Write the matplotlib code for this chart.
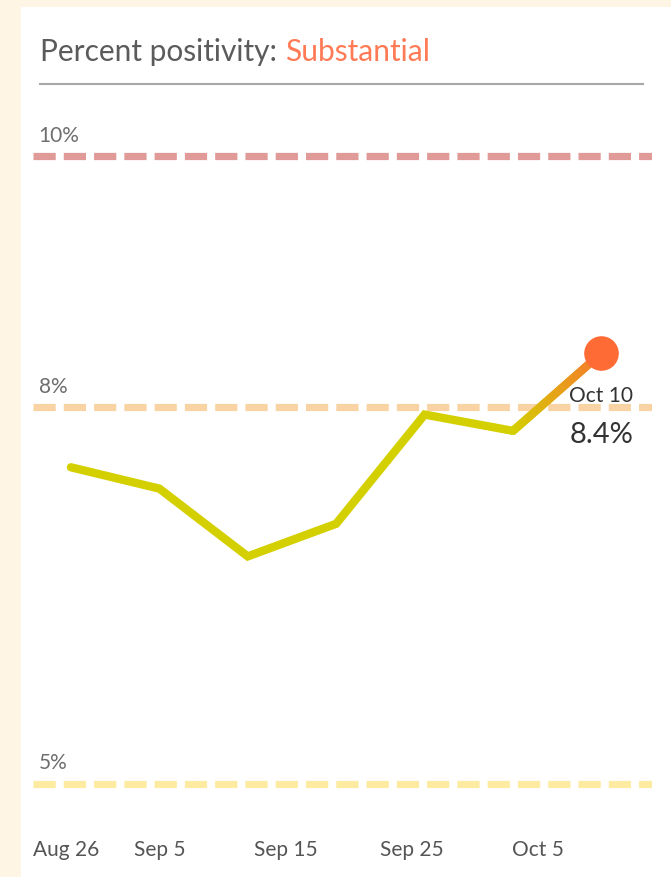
import numpy as np
import pandas as pd
import matplotlib
matplotlib.use("Agg")
import matplotlib.pyplot as plt
import matplotlib.dates as mdates
from matplotlib.collections import LineCollection
from matplotlib.colors import to_rgb

# data
dates = pd.to_datetime(["2020-08-29", "2020-09-05", "2020-09-12", "2020-09-19",
                        "2020-09-26", "2020-10-03", "2020-10-10"])
positivity = [7.52, 7.35, 6.81, 7.07, 7.94, 7.81, 8.43]
thresholds = [10, 8, 5]
threshold_labels = ["10%", "8%", "5%"]
threshold_colors = ["#E09A98", "#F9D3A3", "#FCEBA0"]
tick_dates = pd.to_datetime(["2020-08-26", "2020-09-05", "2020-09-15", "2020-09-25", "2020-10-05"])
tick_labels = ["Aug 26", "Sep 5", "Sep 15", "Sep 25", "Oct 5"]
last_label = "Oct 10"
last_value_text = "8.4%"

plt.rcParams["font.family"] = ["Lato", "DejaVu Sans"]
plt.rcParams["lines.scale_dashes"] = False

W, H = 671, 878
fig = plt.figure(figsize=(W / 100, H / 100), dpi=100)
fig.patch.set_facecolor("#FFF5E4")

# white panel
panel = fig.add_axes([21 / W, 0, 1 - 21 / W, 1 - 8 / H])
panel.set_facecolor("white")
panel.axis("off")
panel.add_patch(plt.Rectangle((0, 0), 1, 1, color="white", transform=panel.transAxes))

# title + rule
t = fig.text(40 / W, 1 - 52 / H, "Percent positivity: ", fontsize=21.5, color="#5B5B5B",
             va="center", ha="left")
fig.canvas.draw()
bb = t.get_window_extent()
fig.text(bb.x1 / W, 1 - 52 / H, "Substantial", fontsize=21.5, color="#FF7A55",
         va="center", ha="left")
fig.add_artist(plt.Line2D([40 / W, 643 / W], [1 - 85 / H, 1 - 85 / H],
                          color="#A8A8A8", lw=1.5))

# chart axes
ax_l, ax_r, ax_t, ax_b = 33, 652, 120, 800
ax = fig.add_axes([ax_l / W, 1 - ax_b / H, (ax_r - ax_l) / W, (ax_b - ax_t) / H])
ax.set_facecolor("none")
for s in ax.spines.values():
    s.set_visible(False)

xnum = mdates.date2num(dates)
x_left = mdates.date2num(pd.Timestamp("2020-08-26 06:00"))
x_right = mdates.date2num(pd.Timestamp("2020-10-14"))
ax.set_xlim(x_left, x_right)
ax.set_ylim(4.877, 10.295)

for v, lab, c in zip(thresholds, threshold_labels, threshold_colors):
    ax.axhline(v, color=c, lw=5.2, linestyle=(0, (16, 5.8)), dash_capstyle="butt", zorder=1)
    ax.annotate(lab, (0, v), xycoords=("axes fraction", "data"), xytext=(4, 8),
                textcoords="offset points", fontsize=15, color="#6E6E6E",
                ha="left", va="bottom")

yellow = "#D4D000"
ax.plot(xnum[:-1], positivity[:-1], color=yellow, lw=6, solid_joinstyle="miter",
        solid_capstyle="round", zorder=3)

# gradient on last segment
n = 40
xs = np.linspace(xnum[-2], xnum[-1], n + 1)
ys = np.linspace(positivity[-2], positivity[-1], n + 1)
segs = [[(xs[i], ys[i]), (xs[i + 1], ys[i + 1])] for i in range(n)]
c0, c1 = np.array(to_rgb(yellow)), np.array(to_rgb("#F67A2E"))
cols = [tuple(c0 + (c1 - c0) * (i / (n - 1))) for i in range(n)]
ax.add_collection(LineCollection(segs, colors=cols, linewidths=6, capstyle="round", zorder=3))

ax.scatter([xnum[-1]], [positivity[-1]], s=620, color="#FF6B35", zorder=4, linewidths=0)

ax.annotate(last_label, (xnum[-1], positivity[-1]), xytext=(0, -30), textcoords="offset points",
            ha="center", va="center", fontsize=15, color="#333333", zorder=5)
ax.annotate(last_value_text, (xnum[-1], positivity[-1]), xytext=(0, -58), textcoords="offset points",
            ha="center", va="center", fontsize=21, color="#333333", zorder=5)

ax.set_yticks([])
ax.set_xticks(mdates.date2num(tick_dates))
ax.set_xticklabels(tick_labels, fontsize=15, color="#555555")
ax.tick_params(axis="x", length=0, pad=29)
ax.get_xticklabels()[0].set_horizontalalignment("left")
ax.get_xticklabels()[0].set_x(x_left)

fig.savefig("out.png", dpi=100, facecolor=fig.get_facecolor())
